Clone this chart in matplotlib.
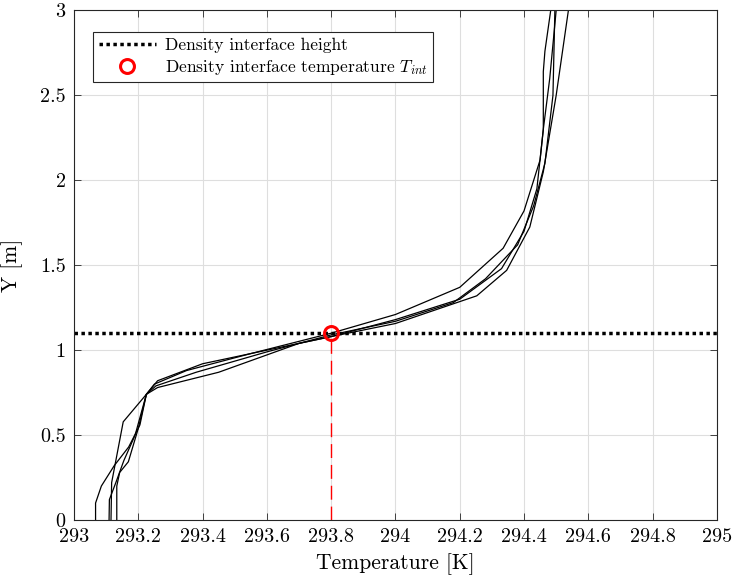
import numpy as np
import matplotlib
matplotlib.use("Agg")
import matplotlib.pyplot as plt

plt.rcParams["font.family"] = "cmr10"
plt.rcParams["mathtext.fontset"] = "cm"
plt.rcParams["axes.formatter.use_mathtext"] = True

# Temperature profiles (K) against height (m), one per run
t1 = [293.067, 293.067, 293.085, 293.125, 293.17, 293.205, 293.225, 293.26, 293.40, 293.60,
      293.80, 294.00, 294.20, 294.33, 294.40, 294.44, 294.46, 294.48, 294.50]
y1 = [0.0, 0.10, 0.20, 0.32, 0.43, 0.56, 0.74, 0.82, 0.92, 1.00,
      1.08, 1.18, 1.30, 1.48, 1.70, 1.95, 2.30, 2.60, 3.0]

t2 = [293.109, 293.11, 293.13, 293.155, 293.19, 293.225, 293.25, 293.35, 293.55, 293.80,
      294.00, 294.20, 294.335, 294.40, 294.45, 294.46, 294.46, 294.465, 294.483]
y2 = [0.0, 0.12, 0.22, 0.35, 0.50, 0.74, 0.80, 0.88, 0.98, 1.10,
      1.21, 1.37, 1.60, 1.82, 2.12, 2.30, 2.64, 2.76, 3.0]

t3 = [293.115, 293.117, 293.153, 293.225, 293.255, 293.38, 293.60, 293.80, 294.00, 294.18,
      294.28, 294.38, 294.43, 294.465, 294.49, 294.496]
y3 = [0.0, 0.22, 0.578, 0.74, 0.79, 0.87, 0.99, 1.09, 1.17, 1.28,
      1.42, 1.62, 1.85, 2.10, 2.50, 3.0]

t4 = [293.133, 293.133, 293.142, 293.169, 293.20, 293.225, 293.26, 293.45, 293.70, 293.80,
      294.00, 294.253, 294.346, 294.418, 294.46, 294.50, 294.538]
y4 = [0.0, 0.20, 0.28, 0.343, 0.54, 0.74, 0.78, 0.87, 1.04, 1.08,
      1.157, 1.32, 1.47, 1.725, 2.05, 2.50, 3.0]

profiles = [(t1, y1), (t2, y2), (t3, y3), (t4, y4)]

# Density interface
y_int = 1.1
t_int = 293.8

fig = plt.figure(figsize=(7.33, 5.82), dpi=100)
ax = fig.add_axes([0.101, 0.1065, 0.877, 0.8755])

for t, y in profiles:
    ax.plot(t, y, color="black", lw=0.9)

ax.axhline(y_int, color="black", ls=(0, (1, 1)), lw=2.5, label="Density interface height")
ax.plot([t_int, t_int], [0, y_int], color="red", ls=(0, (10, 5)), lw=1.0)
ax.plot(t_int, y_int, "o", ms=10, mfc="none", mec="red", mew=2.2,
        label=r"Density interface temperature $T_{int}$")

ax.set_xlim(293, 295)
ax.set_ylim(0, 3)
ax.set_xticks(np.arange(293, 295.01, 0.2))
ax.set_xticklabels(["293", "293.2", "293.4", "293.6", "293.8", "294",
                    "294.2", "294.4", "294.6", "294.8", "295"])
ax.set_yticks(np.arange(0, 3.01, 0.5))
ax.set_yticklabels(["0", "0.5", "1", "1.5", "2", "2.5", "3"])
ax.tick_params(direction="in", top=True, right=True, labelsize=14.5, length=5,
               width=0.6, color="#262626", pad=6)
ax.grid(True, color="#dedede", lw=0.8)
ax.set_axisbelow(True)
for s in ax.spines.values():
    s.set_linewidth(0.8)
    s.set_color("#262626")

ax.set_xlabel("Temperature [K]", fontsize=15.5, labelpad=5)
ax.set_ylabel("Y [m]", fontsize=15.5, labelpad=12)

leg = ax.legend(loc="upper left", bbox_to_anchor=(0.03, 0.957), fontsize=12.6,
                frameon=True, fancybox=False, edgecolor="#262626", framealpha=1,
                handlelength=3.3, borderpad=0.3, labelspacing=0.3, handletextpad=0.5,
                borderaxespad=0)
leg.get_frame().set_linewidth(0.8)

fig.savefig("out.png", dpi=100)
